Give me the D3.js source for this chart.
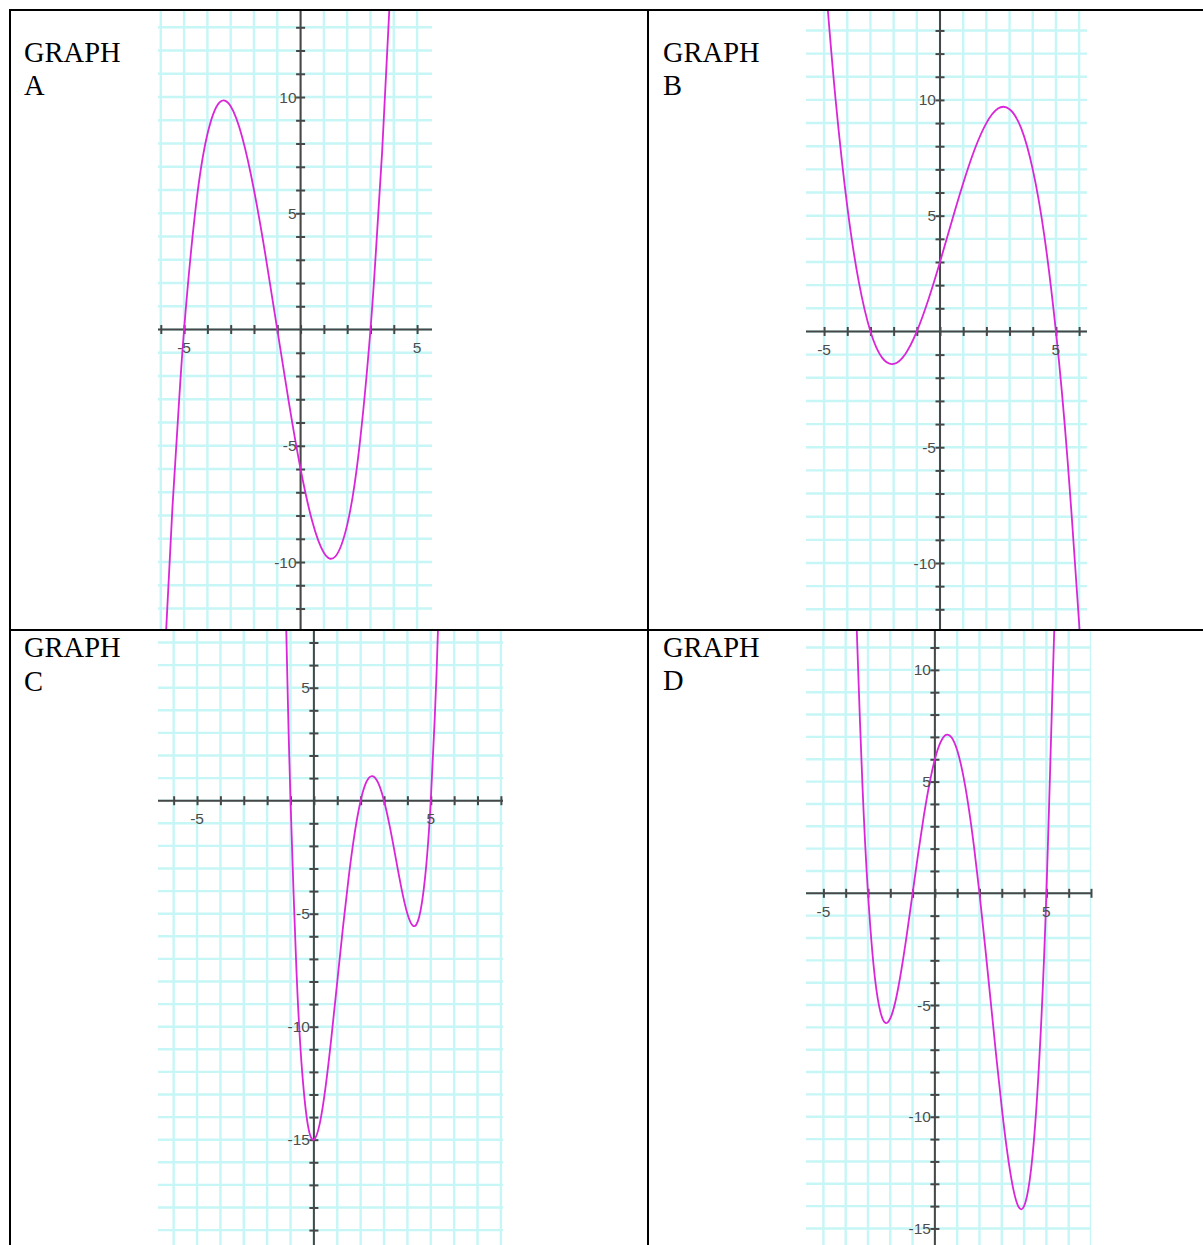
<!DOCTYPE html>
<html>
<head>
<meta charset="utf-8">
<script src="https://cdn.jsdelivr.net/npm/d3@7"></script>
<style>
  html, body { margin: 0; padding: 0; background: #fff; }
  svg { display: block; }
</style>
</head>
<body>
<svg id="chart" width="1203" height="1245"></svg>
<script>
// ---------- DATA ----------
const titles = ["A", "B", "C", "D"];

const graphAPoints = [
  [-5.8, -13.52], [-5.5, -7.65], [-5.25, -3.63], [-5, 0], [-4.5, 5.25], [-4, 8.4], [-3.5, 9.75],
  [-3, 9.6], [-2.5, 8.25], [-2, 6], [-1.5, 3.15], [-1, 0], [-0.5, -3.15], [0, -6],
  [0.5, -8.25], [1, -9.6], [1.5, -9.75], [2, -8.4], [2.5, -5.25], [3, 0],
  [3.25, 3.63], [3.5, 7.65], [3.85, 14.59]
];
const graphBPoints = [
  [-4.85, 14.03], [-4.5, 9.98], [-4, 5.4], [-3.5, 2.13], [-3, 0], [-2.5, -1.13], [-2, -1.4],
  [-1.5, -0.98], [-1, 0], [-0.5, 1.38], [0, 3], [0.5, 4.73], [1, 6.4], [1.5, 7.88],
  [2, 9], [2.5, 9.63], [3, 9.6], [3.5, 8.78], [4, 7], [4.5, 4.13], [5, 0],
  [5.5, -5.53], [6, -12.6], [6.1, -14.21]
];
const graphCPoints = [
  [-1.2, 8.33], [-1.1, 3.8], [-1, 0], [-0.75, -7.41], [-0.5, -12.03], [-0.25, -14.4], [0, -15],
  [0.25, -14.29], [0.5, -12.66], [0.75, -10.46], [1, -8], [1.25, -5.54], [1.5, -3.28],
  [1.75, -1.4], [2, 0], [2.25, 0.84], [2.5, 1.09], [2.75, 0.79], [3, 0], [3.25, -1.16],
  [3.5, -2.53], [3.75, -3.9], [4, -5], [4.25, -5.54], [4.5, -5.16], [4.75, -3.46],
  [5, 0], [5.25, 5.71], [5.4, 10.5], [5.5, 14.22]
];
const graphDPoints = [
  [-3.6, 15.03], [-3.5, 11.69], [-3.25, 4.87], [-3, 0], [-2.75, -3.22], [-2.5, -5.06],
  [-2.25, -5.78], [-2, -5.6], [-1.75, -4.75], [-1.5, -3.41], [-1.25, -1.78], [-1, 0],
  [-0.75, 1.78], [-0.5, 3.44], [-0.25, 4.87], [0, 6], [0.25, 6.75], [0.5, 7.09],
  [0.75, 6.97], [1, 6.4], [1.25, 5.38], [1.5, 3.94], [1.75, 2.12], [2, 0],
  [2.25, -2.35], [2.5, -4.81], [2.75, -7.28], [3, -9.6], [3.25, -11.62], [3.5, -13.16],
  [3.75, -14.03], [4, -14], [4.25, -12.85], [4.5, -10.31], [4.75, -6.13], [5, 0],
  [5.25, 8.38], [5.4, 13.6], [5.5, 19.34]
];

const xTickLabelsAll = [-5, 5];
const yTickLabelsA = [10, 5, -5, -10];
const yTickLabelsB = [10, 5, -5, -10];
const yTickLabelsC = [5, -5, -10, -15];
const yTickLabelsD = [10, 5, -5, -10, -15];

// ---------- LAYOUT ----------
const panels = [
  { letter: titles[0], points: graphAPoints, yLabels: yTickLabelsA,
    tx: 24, ty1: 61.5, ty2: 95,
    xDom: [-6.12, 5.64], xRange: [158, 432], yDom: [13.7, -12.88], yRange: [11, 629] },
  { letter: titles[1], points: graphBPoints, yLabels: yTickLabelsB,
    tx: 663, ty1: 61.5, ty2: 95,
    xDom: [-5.78, 6.34], xRange: [806, 1087], yDom: [13.84, -12.85], yRange: [11, 629] },
  { letter: titles[2], points: graphCPoints, yLabels: yTickLabelsC,
    tx: 24, ty1: 656.5, ty2: 691,
    xDom: [-6.67, 8.09], xRange: [158, 503], yDom: [7.51, -19.66], yRange: [631, 1245] },
  { letter: titles[3], points: graphDPoints, yLabels: yTickLabelsD,
    tx: 663, ty1: 656.5, ty2: 690,
    xDom: [-5.78, 7.0], xRange: [806, 1091], yDom: [11.74, -15.74], yRange: [631, 1245] }
];

const GRID = "#c6f6f6";
const AXIS = "#474747";
const CURVE = "#d926d9";

const svg = d3.select("#chart");
const defs = svg.append("defs");

panels.forEach((p, i) => {
  const x = d3.scaleLinear().domain(p.xDom).range(p.xRange);
  const y = d3.scaleLinear().domain(p.yDom).range(p.yRange);
  const g = svg.append("g");

  const clipId = "clip" + i;
  defs.append("clipPath").attr("id", clipId)
    .append("rect")
    .attr("x", p.xRange[0]).attr("y", p.yRange[0])
    .attr("width", p.xRange[1] - p.xRange[0])
    .attr("height", p.yRange[1] - p.yRange[0]);

  const xInts = d3.range(Math.ceil(p.xDom[0]), Math.floor(p.xDom[1]) + 1);
  const yInts = d3.range(Math.ceil(p.yDom[1]), Math.floor(p.yDom[0]) + 1);

  // grid
  const grid = g.append("g").attr("clip-path", `url(#${clipId})`);
  grid.selectAll("line.v").data(xInts).join("line")
    .attr("x1", d => x(d)).attr("x2", d => x(d))
    .attr("y1", p.yRange[0]).attr("y2", p.yRange[1])
    .attr("stroke", GRID).attr("stroke-width", 2.4);
  grid.selectAll("line.h").data(yInts).join("line")
    .attr("y1", d => y(d)).attr("y2", d => y(d))
    .attr("x1", p.xRange[0]).attr("x2", p.xRange[1])
    .attr("stroke", GRID).attr("stroke-width", 2.4);

  const axG = g.append("g");
  axG.append("line")
    .attr("x1", p.xRange[0]).attr("x2", p.xRange[1])
    .attr("y1", y(0)).attr("y2", y(0))
    .attr("stroke", AXIS).attr("stroke-width", 2);
  axG.append("line")
    .attr("x1", x(0)).attr("x2", x(0))
    .attr("y1", p.yRange[0]).attr("y2", p.yRange[1])
    .attr("stroke", AXIS).attr("stroke-width", 2);

  // ticks (both sides of the axis) via d3 axis generators
  const xt = axG.append("g").attr("transform", `translate(0,${y(0)})`);
  xt.call(d3.axisBottom(x).tickValues(xInts).tickSizeInner(4.5).tickSizeOuter(0).tickFormat(""));
  xt.call(g2 => g2.select(".domain").remove());
  xt.selectAll(".tick line").attr("y1", -4.5).attr("y2", 4.5)
    .attr("stroke", AXIS).attr("stroke-width", 2);

  const yt = axG.append("g").attr("transform", `translate(${x(0)},0)`);
  yt.call(d3.axisLeft(y).tickValues(yInts.filter(v => v !== 0)).tickSizeInner(4.5).tickSizeOuter(0).tickFormat(""));
  yt.call(g2 => g2.select(".domain").remove());
  yt.selectAll(".tick line").attr("x1", -4.5).attr("x2", 4.5)
    .attr("stroke", AXIS).attr("stroke-width", 2);

  // curve
  const line = d3.line()
    .x(d => x(d[0])).y(d => y(d[1]))
    .curve(d3.curveNatural);
  g.append("path")
    .attr("clip-path", `url(#${clipId})`)
    .datum(p.points)
    .attr("d", line)
    .attr("fill", "none")
    .attr("stroke", CURVE)
    .attr("stroke-width", 1.8);

  // tick labels
  const lbl = g.append("g")
    .attr("font-family", "Liberation Sans, Arial, sans-serif")
    .attr("font-size", 15.5)
    .attr("fill", "#4d4d4d");
  lbl.selectAll("text.xl").data(xTickLabelsAll).join("text")
    .attr("x", d => x(d))
    .attr("y", y(0) + 23.5)
    .attr("text-anchor", "middle")
    .text(d => d);
  lbl.selectAll("text.yl").data(p.yLabels).join("text")
    .attr("x", x(0) - 4)
    .attr("y", d => y(d))
    .attr("dy", "0.36em")
    .attr("text-anchor", "end")
    .text(d => d);

  // title
  const t = g.append("text")
    .attr("font-family", "Liberation Serif, 'Times New Roman', serif")
    .attr("font-size", 28.5)
    .attr("fill", "#000");
  t.append("tspan").attr("x", p.tx).attr("y", p.ty1).text("GRAPH");
  t.append("tspan").attr("x", p.tx).attr("y", p.ty2).text(p.letter);
});

// table borders
const borders = svg.append("g").attr("stroke", "#000").attr("stroke-width", 2);
borders.append("line").attr("x1", 9).attr("x2", 1203).attr("y1", 10).attr("y2", 10);
borders.append("line").attr("x1", 10).attr("x2", 10).attr("y1", 9).attr("y2", 1245);
borders.append("line").attr("x1", 648).attr("x2", 648).attr("y1", 10).attr("y2", 1245);
borders.append("line").attr("x1", 10).attr("x2", 1203).attr("y1", 630).attr("y2", 630);
</script>
</body>
</html>
